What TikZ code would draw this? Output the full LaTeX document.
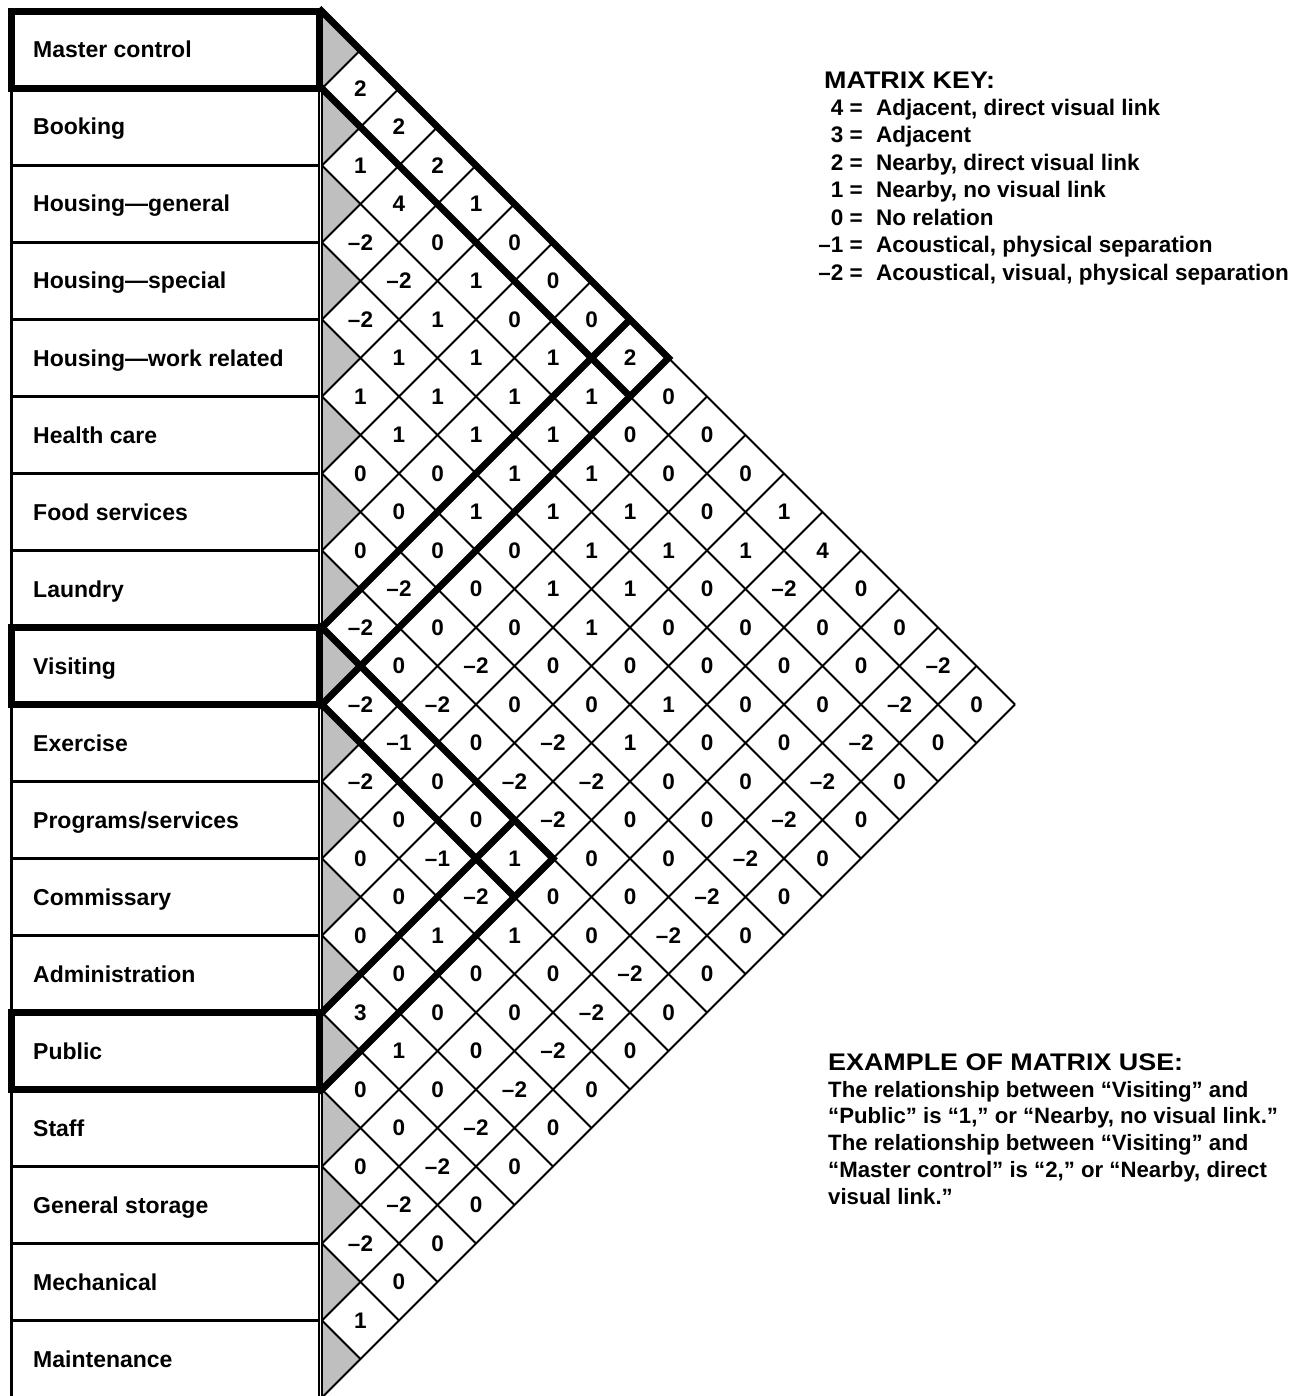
\documentclass[tikz,border=0pt]{standalone}
\usepackage{fontspec}
\setmainfont{Liberation Sans}
\newfontfamily\headfont[FakeStretch=1.12]{Liberation Sans}
\begin{document}
\begin{tikzpicture}[x=1pt,y=-1pt,
  thinln/.style={line width=2pt},
  thickln/.style={line width=7pt},
  rowbox/.style={line width=2.2pt},
  rowboxthick/.style={line width=7pt},
  grayfill/.style={fill=black!25},
  labeltext/.style={font=\fontsize{23}{27}\selectfont\bfseries, inner sep=0pt, anchor=base west},
  celltext/.style={font=\fontsize{22.5}{25}\selectfont\bfseries, inner sep=0pt},
  keyhead/.style={font=\headfont\fontsize{24}{28}\selectfont\bfseries, inner sep=0pt, anchor=base west},
  keytext/.style={font=\fontsize{22.5}{26}\selectfont\bfseries, inner sep=0pt},
  extext/.style={font=\fontsize{22.2}{27}\selectfont\bfseries, inner sep=0pt, anchor=base west}]
\useasboundingbox (0,0) rectangle (1304,1396);

% ---------- left label boxes ----------
\foreach \lbl [count=\i from 0] in {Master control, Booking, Housing—general, Housing—special, Housing—work related, Health care, Food services, Laundry, Visiting, Exercise, Programs/services, Commissary, Administration, Public, Staff, General storage, Mechanical, Maintenance}{
  \draw[rowbox] (11.5,{11.5+77*\i}) rectangle (319,{88.5+77*\i});
  \node[labeltext] (lab\i) at (33,{58+77*\i}) {\lbl};
}
\foreach \i in {0,8,13}{
  \draw[rowboxthick] (11.5,{11.5+77*\i}) rectangle (319,{88.5+77*\i});
}

% ---------- matrix (d = j-i, s = i+j) ----------
\begin{scope}[shift={(322,50)}, x=38.5pt, y=-38.5pt]
  % gray half-diamonds
  \foreach \i in {0,...,17}{
    \fill[grayfill] (0,{2*\i-1}) -- (1,{2*\i}) -- (0,{2*\i+1}) -- cycle;
  }
  % grid lines
  \foreach \k in {0,...,17}{
    \draw[thinln] (0,{2*\k-1}) -- ({18-\k},{17+\k});
  }
  \foreach \k in {1,...,18}{
    \draw[thinln] (0,{2*\k-1}) -- (\k,{\k-1});
  }
  \draw[thinln] (0,-1) -- (0,35);
  % cell values
  \foreach \i/\vals in {
    0/{2,2,2,1,0,0,0,2,0,0,0,1,4,0,0,-2,0},
    1/{1,4,0,1,0,1,1,0,0,0,1,-2,0,0,-2,0},
    2/{-2,-2,1,1,1,1,1,1,1,0,0,0,0,-2,0},
    3/{-2,1,1,1,1,1,1,1,0,0,0,0,-2,0},
    4/{1,1,0,1,0,1,1,0,1,0,0,-2,0},
    5/{0,0,0,0,0,0,0,1,0,0,-2,0},
    6/{0,-2,0,-2,0,-2,-2,0,0,-2,0},
    7/{-2,0,-2,0,-2,-2,0,0,-2,0},
    8/{-2,-1,0,0,1,0,0,-2,0},
    9/{-2,0,-1,-2,1,0,-2,0},
    10/{0,0,1,0,0,-2,0},
    11/{0,0,0,0,-2,0},
    12/{3,1,0,-2,0},
    13/{0,0,-2,0},
    14/{0,-2,0},
    15/{-2,0},
    16/{1}}{
    \foreach \v [count=\n] in \vals {
      \pgfmathtruncatemacro{\jj}{\i+\n}
      \pgfmathtruncatemacro{\ss}{2*\i+\n}
      \node[celltext] (c\i-\jj) at (\n,\ss) {\ifnum\v<0 –\number\numexpr-\v\relax\else\v\fi};
    }
  }
  % thick outlines
  \draw[thickln, line join=miter] (-0.08,-1.08) -- (9,8) -- (-0.08,17.08);
  \draw[thickln] (-0.08,0.92) -- (8,9);
  \draw[thickln] (-0.08,15.08) -- (8,7);
  \draw[thickln, line join=miter] (-0.08,14.92) -- (6,21) -- (-0.08,27.08);
  \draw[thickln, line join=miter] (-0.08,16.92) -- (5,22);
  \draw[thickln] (-0.08,25.08) -- (5,20);
\end{scope}

% ---------- matrix key ----------
\node[keyhead] (keytitle) at (824,89) {MATRIX KEY:};
\foreach \n/\t [count=\k from 0] in {4/{Adjacent, direct visual link}, 3/{Adjacent}, 2/{Nearby, direct visual link}, 1/{Nearby, no visual link}, 0/{No relation}, –1/{Acoustical, physical separation}, –2/{Acoustical, visual, physical separation}}{
  \node[keytext, anchor=base east] (kn\k) at (863,{115.5+27.5*\k}) {\n\ =};
  \node[keytext, anchor=base west] (kt\k) at (876,{115.5+27.5*\k}) {\t};
}

% ---------- example ----------
\node[keyhead] (extitle) at (828,1070) {EXAMPLE OF MATRIX USE:};
\foreach \t [count=\k from 0] in {{The relationship between “Visiting” and}, {“Public” is “1,” or “Nearby, no visual link.”}, {The relationship between “Visiting” and}, {“Master control” is “2,” or “Nearby, direct}, {visual link.”}}{
  \node[extext] (ex\k) at (828,{1097+26.8*\k}) {\t};
}
\end{tikzpicture}
\end{document}
